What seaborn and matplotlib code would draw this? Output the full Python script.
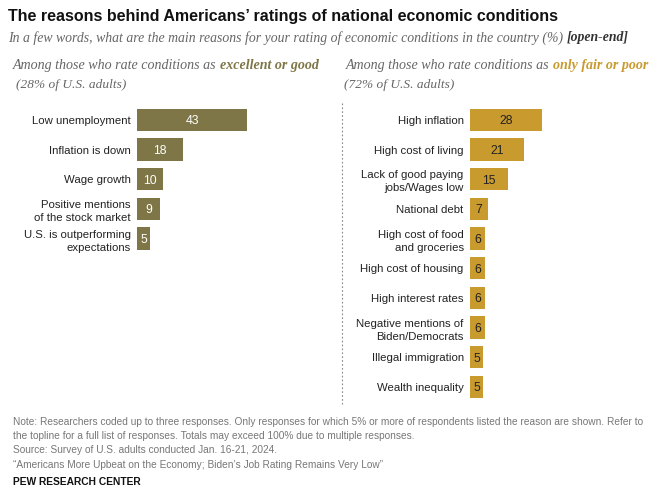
import matplotlib
matplotlib.use("Agg")
import matplotlib.pyplot as plt
import seaborn as sns
import pandas as pd
from matplotlib import font_manager as fm

# ---------------- data ----------------
good_reasons = ["Low unemployment", "Inflation is down", "Wage growth",
                "Positive mentions\nof the stock market",
                "U.S. is outperforming\nexpectations"]
good_values = [43, 18, 10, 9, 5]

poor_reasons = ["High inflation", "High cost of living",
                "Lack of good paying\njobs/Wages low", "National debt",
                "High cost of food\nand groceries", "High cost of housing",
                "High interest rates", "Negative mentions of\nBiden/Democrats",
                "Illegal immigration", "Wealth inequality"]
poor_values = [28, 21, 15, 7, 6, 6, 6, 6, 5, 5]

# ---------------- style ----------------
sns.set_theme(style="white")
plt.rcParams['font.family'] = ['Liberation Sans', 'DejaVu Sans']

OLIVE = "#7e7646"
GOLD = "#c99a2e"
W, H = 661, 497
fig = plt.figure(figsize=(W / 100, H / 100), dpi=100)

def fx(px):
    return px / W

def fy(py):
    return 1 - py / H

avail = {f.name for f in fm.fontManager.ttflist}
NARROW = 'Liberation Sans Narrow' if 'Liberation Sans Narrow' in avail else 'Liberation Sans'
SERIF = 'Liberation Serif'

PX = 2.56          # pixels per percentage point
ROW_TOP, ROW_BOT = 105.0, 401.7

renderer = fig.canvas.get_renderer()

def fit(t, target_px):
    bb = t.get_window_extent(renderer=renderer)
    t.set_fontsize(t.get_fontsize() * target_px / bb.width)

def make_ax(left_px, width_px):
    return fig.add_axes([fx(left_px), fy(ROW_BOT), width_px / W, (ROW_BOT - ROW_TOP) / H])

def draw_panel(ax, cats, vals, color, txtcolor, width_px):
    df = pd.DataFrame({"reason": cats, "pct": vals})
    sns.barplot(data=df, x="pct", y="reason", orient="h", color=color,
                width=0.76, ax=ax, saturation=1, linewidth=0)
    ax.set_xlim(0, width_px / PX)
    ax.set_ylim(9.5, -0.5)
    labs = ax.bar_label(ax.containers[0], label_type="center", color=txtcolor,
                        fontsize=8.8, family='Liberation Sans')
    for l in labs:
        l.set_va("center_baseline")
    for s in ax.spines.values():
        s.set_visible(False)
    ax.set_xticks([])
    ax.set_xlabel("")
    ax.set_ylabel("")
    ax.tick_params(axis="y", length=0, pad=4.5, labelsize=8.2, labelcolor="#222222")
    ax.set_yticks(range(len(cats)))
    ax.set_yticklabels(cats, linespacing=1.4, multialignment="right")
    ax.patch.set_alpha(0)

axL = make_ax(137, 190)
draw_panel(axL, good_reasons, good_values, OLIVE, "white", 190)
axR = make_ax(470, 185)
draw_panel(axR, poor_reasons, poor_values, GOLD, "#222222", 185)

# dotted separator
fig.add_artist(plt.Line2D([fx(342.5), fx(342.5)], [fy(103), fy(404)],
                          color="#888888", lw=0.8, ls=(0, (1.5, 2))))

def rich(x_px, y_px, parts, size, family):
    x = fx(x_px)
    for text, kw in parts:
        t = fig.text(x, fy(y_px), text, fontsize=size, family=family, va="center",
                     ha="left", **kw)
        bb = t.get_window_extent(renderer=renderer)
        x += bb.width / W

# title
tt = fig.text(fx(8), fy(16), "The reasons behind Americans’ ratings of national economic conditions",
              fontsize=12.6, fontweight="bold", family=NARROW, color="#111111", va="center")
fit(tt, 548)

rich(8, 38, [("In a few words, what are the main reasons for your rating of economic conditions in the country (%) ",
              dict(style="italic", color="#666666")),
             ("[open-end]", dict(style="italic", weight="bold", color="#333333"))],
     9.9, SERIF)

rich(13, 66, [("Among those who rate conditions as ", dict(style="italic", color="#666666")),
              ("excellent or good", dict(style="italic", weight="bold", color=OLIVE))],
     10.1, SERIF)
rich(16, 85, [("(28% of U.S. adults)", dict(style="italic", color="#666666"))], 9.6, SERIF)

rich(346, 66, [("Among those who rate conditions as ", dict(style="italic", color="#666666")),
               ("only fair or poor", dict(style="italic", weight="bold", color=GOLD))],
     10.1, SERIF)
rich(344, 85, [("(72% of U.S. adults)", dict(style="italic", color="#666666"))], 9.6, SERIF)

notes = ["Note: Researchers coded up to three responses. Only responses for which 5% or more of respondents listed the reason are shown. Refer to",
         "the topline for a full list of responses. Totals may exceed 100% due to multiple responses.",
         "Source: Survey of U.S. adults conducted Jan. 16-21, 2024.",
         "“Americans More Upbeat on the Economy; Biden’s Job Rating Remains Very Low”"]
nts = []
for i, line in enumerate(notes):
    nts.append(fig.text(fx(13), fy(422 + i * 14.2), line, fontsize=7.6, family=NARROW,
                        color="#777777", va="center"))
fit(nts[0], 624)
for t in nts[1:]:
    t.set_fontsize(nts[0].get_fontsize())
fig.text(fx(13), fy(482), "PEW RESEARCH CENTER", fontsize=7.4, family=NARROW,
         fontweight="bold", color="#111111", va="center")

fig.savefig("out.png", dpi=100, facecolor="white")
